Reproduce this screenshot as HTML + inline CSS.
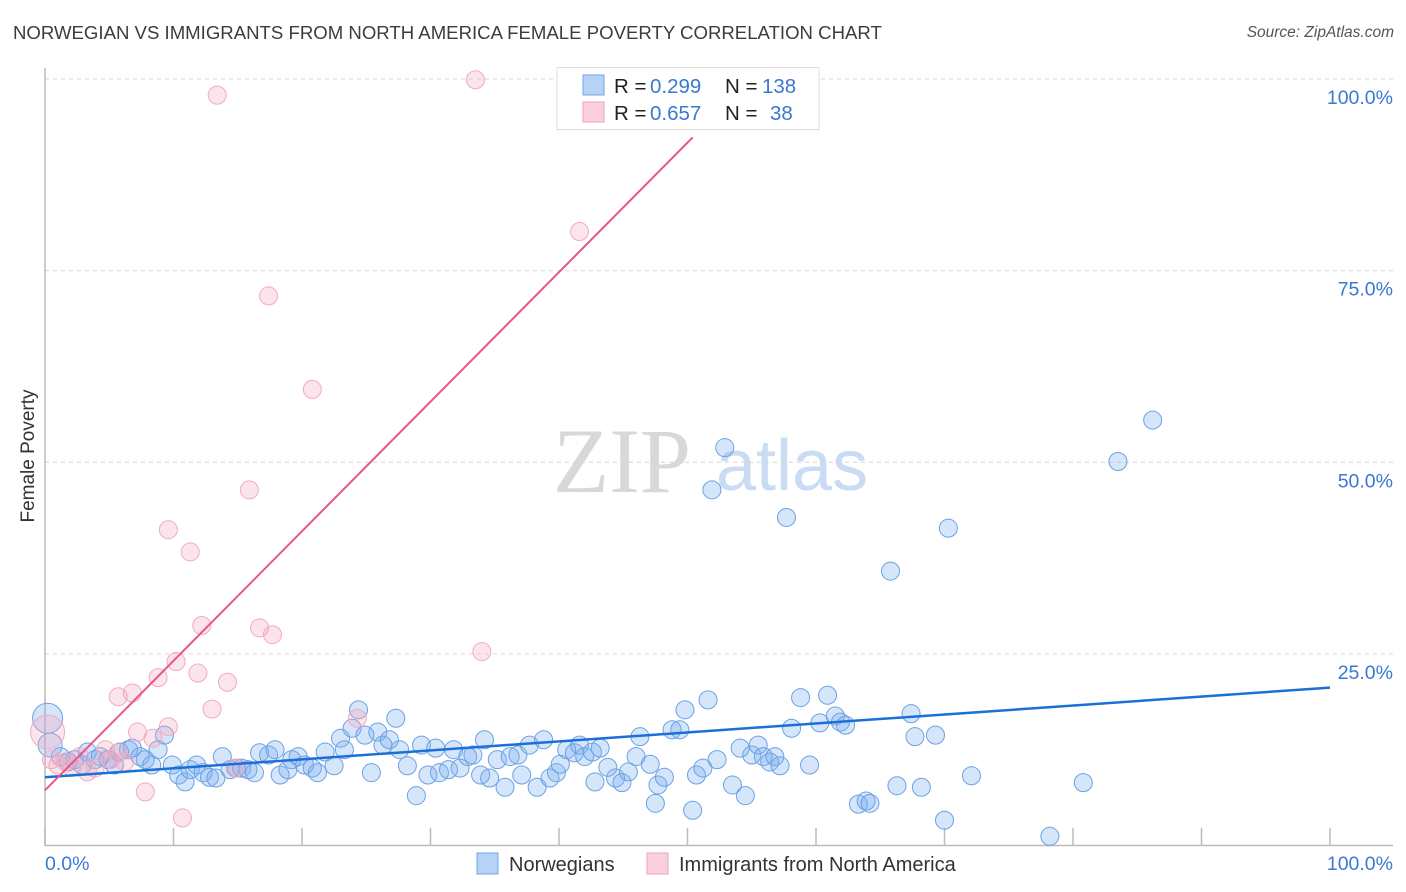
<!DOCTYPE html>
<html><head><meta charset="utf-8">
<style>
body{margin:0;background:#fff;font-family:"Liberation Sans",sans-serif;}
#wrap{position:relative;width:1406px;height:892px;overflow:hidden;}
.t{position:absolute;white-space:nowrap;}
</style></head><body>
<div id="wrap">
<div class="t" style="left:13px;top:22px;font-size:18.6px;color:#3c3c3c;">NORWEGIAN VS IMMIGRANTS FROM NORTH AMERICA FEMALE POVERTY CORRELATION CHART</div>
<div class="t" style="right:12px;top:24px;font-size:15.5px;color:#555;font-style:italic;">Source: ZipAtlas.com</div>
<svg id="svg" width="1406" height="892" style="position:absolute;left:0;top:0"></svg>
</div>
<script>
const yTicks=[25,50,75,100];
const yTickLabels=["25.0%","50.0%","75.0%","100.0%"];
const xTickVals=[0,10,20,30,40,50,60,70,80,90,100];
const blueX=[0.2,0.4,1.2,1.8,2.3,2.9,3.3,3.9,4.3,4.9,5.4,5.8,6.5,6.8,7.4,7.8,8.3,8.8,9.3,9.9,10.4,10.9,11.3,11.8,12.3,12.8,13.3,13.8,14.4,14.9,15.3,15.8,16.3,16.7,17.4,17.9,18.3,18.9,19.2,19.7,20.2,20.8,21.2,21.8,22.5,23.0,23.3,23.9,24.4,24.9,25.4,25.9,26.3,26.8,27.3,27.6,28.2,28.9,29.3,29.8,30.4,30.7,31.4,31.8,32.3,32.9,33.3,33.9,34.2,34.6,35.2,35.8,36.2,36.8,37.1,37.7,38.3,38.8,39.3,39.8,40.1,40.6,41.2,41.6,42.0,42.6,42.8,43.2,43.8,44.4,44.9,45.4,46.0,46.3,47.1,47.5,47.7,48.2,48.8,49.4,49.8,50.4,50.7,51.2,51.6,51.9,52.3,52.9,53.5,54.1,54.5,55.0,55.5,55.9,56.4,56.8,57.2,57.7,58.1,58.8,59.5,60.3,60.9,61.5,61.9,62.3,63.3,63.9,64.2,65.8,66.3,67.4,67.7,68.2,69.3,70.0,70.3,72.1,78.2,80.8,83.5,86.2];
const blueY=[16.6,13.1,11.6,10.9,11.2,10.5,12.2,11.2,11.6,11.2,10.5,12.2,12.5,12.7,11.6,11.2,10.5,12.5,14.4,10.5,9.2,8.3,9.9,10.5,9.5,8.9,8.8,11.6,9.9,10.1,10.1,9.9,9.5,12.1,11.8,12.5,9.2,9.9,11.2,11.6,10.5,10.1,9.5,12.2,10.4,14.0,12.5,15.3,17.7,14.4,9.5,14.8,13.1,13.8,16.6,12.5,10.4,6.5,13.1,9.2,12.7,9.5,9.9,12.5,10.1,11.6,11.8,9.2,13.8,8.8,11.2,7.6,11.6,11.8,9.2,13.1,7.6,13.8,8.8,9.5,10.6,12.5,12.1,13.1,11.6,12.2,8.3,12.7,10.2,8.8,8.2,9.6,11.6,14.2,10.6,5.5,7.9,8.9,15.1,15.1,17.7,4.6,9.2,10.1,19.0,46.4,11.2,51.9,7.9,12.7,6.5,11.8,13.1,11.6,10.9,11.6,10.4,42.8,15.3,19.3,10.5,16.0,19.6,16.9,16.1,15.7,5.4,5.8,5.5,35.8,7.8,17.2,14.2,7.6,14.4,3.3,41.4,9.1,1.2,8.2,50.1,55.5];
const blueSize=[15,12,9,9,9,9,9,9,9,9,9,9,9,9,9,9,9,9,9,9];
const pinkX=[0.2,0.5,1.0,1.6,2.1,2.7,3.3,3.9,4.7,5.1,5.7,6.2,5.7,6.8,7.2,7.8,8.4,8.8,9.6,9.6,10.2,10.7,11.3,11.9,12.2,13.0,13.4,14.2,14.8,15.9,16.7,17.4,17.7,20.8,24.3,33.5,34.0,41.6];
const pinkY=[14.8,11.2,10.5,10.9,10.2,11.6,9.6,10.1,12.5,11.2,12.1,10.9,19.4,19.9,14.8,7.0,14.0,21.9,15.5,41.2,24.0,3.6,38.3,22.5,28.7,17.8,97.9,21.3,10.1,46.4,28.4,71.7,27.5,59.5,16.6,99.9,25.3,80.1];
const pinkSize=[17];
const blueTrend=[8.9,20.6];
const pinkTrend=[7.2,1.69];

const X0=45,X1=1330,Y0=845.5,Y100=79;
const sx=v=>X0+(X1-X0)*v/100;
const sy=v=>Y0-(Y0-Y100)*v/100;
const svg=document.getElementById('svg');
const NS='http://www.w3.org/2000/svg';
function mk(tag,attrs){const e=document.createElementNS(NS,tag);for(const k in attrs)e.setAttribute(k,attrs[k]);svg.appendChild(e);return e;}

let wm=mk('text',{x:553,y:492,'font-size':92,'font-family':'Liberation Serif, serif',fill:'#d8d8d8'});wm.textContent='ZIP';


let wm2=mk('text',{x:716,y:490,'font-size':72,'font-family':'Liberation Sans, sans-serif',fill:'#c9dcf3'});wm2.textContent='atlas';



yTicks.forEach((v,i)=>{
 const g=mk('line',{x1:X0,x2:1393,y1:sy(v),y2:sy(v),stroke:'#d6d6d6','stroke-dasharray':'4,4','stroke-width':1});
 
 
 const t=mk('text',{x:1393,y:sy(v)+25,'text-anchor':'end','font-size':19.5,fill:'#3a78d4'});
 t.textContent=yTickLabels[i];
 
 
});
let ax=mk('line',{x1:X0,x2:X0,y1:68,y2:846,stroke:'#bbb','stroke-width':1.5});


let bx=mk('line',{x1:X0,x2:1393,y1:845.5,y2:845.5,stroke:'#bbb','stroke-width':1.5});


xTickVals.forEach(v=>{
 const tk=mk('line',{x1:sx(v),x2:sx(v),y1:828,y2:845,stroke:'#bbb','stroke-width':1.5});
 
 
});
let xl0=mk('text',{x:45,y:870,'font-size':19.5,fill:'#3a78d4'});xl0.textContent='0.0%';


let xl1=mk('text',{x:1393,y:870,'text-anchor':'end','font-size':19.5,fill:'#3a78d4'});xl1.textContent='100.0%';


let yt=mk('text',{x:34,y:456,'font-size':19,fill:'#333',transform:'rotate(-90 34 456)','text-anchor':'middle'});yt.textContent='Female Poverty';



blueX.forEach((x,i)=>{
 const c=mk('circle',{cx:sx(x),cy:sy(blueY[i]),r:blueSize[i]||9,fill:'rgba(120,172,238,0.3)',stroke:'#6aa2e4','stroke-width':1});
 
 
});
pinkX.forEach((x,i)=>{
 const c=mk('circle',{cx:sx(x),cy:sy(pinkY[i]),r:pinkSize[i]||9,fill:'rgba(245,165,190,0.3)',stroke:'#f2aac0','stroke-width':1});
 
 
});
let bl=mk('line',{x1:sx(0),y1:sy(blueTrend[0]),x2:sx(100),y2:sy(blueTrend[1]),stroke:'#1a6fd8','stroke-width':2.5});


const pEnd=50.4;
let pl=mk('line',{x1:sx(0),y1:sy(pinkTrend[0]),x2:sx(pEnd),y2:sy(pinkTrend[0]+pinkTrend[1]*pEnd),stroke:'#e8558a','stroke-width':2});



let lb=mk('rect',{x:557,y:67.5,width:262,height:62,fill:'#fff',stroke:'#ddd'});


[[0,'rgba(110,165,235,0.5)','#6fa4e6','0.299','138',762],[1,'rgba(245,160,185,0.5)','#f0a3ba','0.657','38',770]].forEach(r=>{
 const y=75+r[0]*27;
 const s=mk('rect',{x:583,y:y,width:21,height:20,fill:r[1],stroke:r[2]});
 
 
 const parts=[['R =',614,'#222'],[r[3],650,'#3a78d4'],['N =',725,'#222'],[r[4],r[5],'#3a78d4']];
 parts.forEach(p=>{
  const t=mk('text',{x:p[1],y:y+18,'font-size':20.5,fill:p[2]});
  t.textContent=p[0];
  
  
 });
});
[[477,'rgba(110,165,235,0.5)','#6fa4e6','Norwegians',509],[647,'rgba(245,160,185,0.5)','#f0a3ba','Immigrants from North America',679]].forEach(r=>{
 const s=mk('rect',{x:r[0],y:853,width:21,height:21,fill:r[1],stroke:r[2]});
 
 
 const t=mk('text',{x:r[4],y:871,'font-size':20,fill:'#333'});
 t.textContent=r[3];
 
 
});
</script>
</body></html>
